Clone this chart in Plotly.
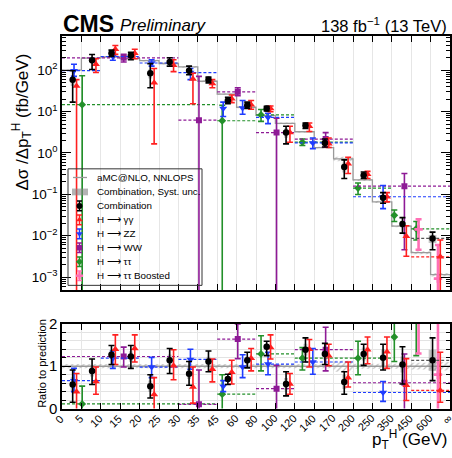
import plotly.graph_objects as go

INF = float("inf")

# pT bin edges of the combined measurement (GeV); the axis is uniform per bin
pt_edges = [0, 5, 10, 15, 20, 25, 30, 35, 45, 60, 80, 100, 120, 140, 170, 200, 250, 350, 450, 600, INF]
edge_labels = ["0", "5", "10", "15", "20", "25", "30", "35", "45", "60", "80", "100",
               "120", "140", "170", "200", "250", "350", "450", "600", "\u221e"]

# aMC@NLO, NNLOPS prediction (fb/GeV) and its relative uncertainty, per fine bin
pred = [100, 195, 208, 190, 170, 145, 120, 54, 26.3, 12.7, 8.1, 5.2, 3.25, 1.34, 0.72,
        0.223, 0.066, 0.017, 0.0039, 0.00115]
pred_unc = [0.05, 0.05, 0.05, 0.05, 0.05, 0.05, 0.05, 0.05, 0.05, 0.05, 0.05, 0.05, 0.05,
            0.05, 0.13, 0.06, 0.06, 0.06, 0.08, 0.10]

# Combination
comb_bins = [0, 5, 10, 15, 20, 25, 30, 35, 45, 60, 80, 100, 120, 140, 170, 200, 250, 350, 450, INF]
comb_val = [59, 173, 255, 226, 84.3, 158, 97, 59, 18.5, 14.2, 11.9, 3.1, 4.6, 1.75, 0.46,
            0.289, 0.083, 0.0192, 0.0086]
comb_hi = [97, 238, 305, 269, 144, 199, 125, 68, 22.1, 16.9, 13.4, 4.4, 5.3, 2.17, 0.68,
           0.347, 0.110, 0.0274, 0.01225]
comb_lo = [16.9, 104, 214, 178, 37.7, 125, 77.3, 49.3, 15.5, 11.9, 10.4, 1.66, 3.9, 1.39,
           0.242, 0.242, 0.061, 0.0116, 0.0046]
comb_syst = [0.30, 0.15, 0.08, 0.10, 0.25, 0.12, 0.15, 0.10, 0.08, 0.08, 0.05, 0.25, 0.10,
             0.10, 0.27, 0.12, 0.16, 0.18, 0.22]
comb_ratio = [0.57, 0.89, 1.27, 1.23, 0.53, 1.14, 0.82, 1.11, 0.70, 1.14, 1.46, 0.58, 1.39,
              1.29, 0.63, 1.29, 1.20, 1.04, 1.14]
comb_ratio_hi = [0.91, 1.17, 1.49, 1.49, 0.80, 1.42, 1.11, 1.36, 0.81, 1.33, 1.59, 0.87, 1.67,
                 1.54, 0.87, 1.52, 1.52, 1.46, 1.67]
comb_ratio_lo = [0.15, 0.57, 1.04, 0.95, 0.25, 0.83, 0.55, 0.87, 0.57, 0.96, 1.25, 0.30, 1.10,
                 1.04, 0.34, 1.02, 0.91, 0.58, 0.66]

# H -> gamma gamma
gg_bins = [0, 5, 10, 15, 20, 25, 30, 35, 45, 60, 80, 100, 120, 140, 170, 200, 250, 350, 450, INF]
gg_val = [41.3, 139, 321, 255, 49.3, 132, 61, 47.8, 20.3, 14.7, 11.9, 3.1, 4.4, 1.66, 0.55,
          0.305, 0.0875, 0.0097, 0.0031]
gg_hi = [59, 188, 395, 321, 110, 178, 84.3, 59, 25.1, 18.5, 13.6, 4.4, 5.3, 2.3, 0.785,
         0.36, 0.110, 0.0175, 0.0079]
gg_lo = [0, 87.5, 240, 188, 1.66, 92, 15.5, 37.7, 16.4, 11.4, 9.9, 1.82, 3.3, 1.35, 0.32,
         0.242, 0.066, 0.0032, 0]
gg_ratio = [0.40, 0.64, 1.40, 1.42, 0.33, 1.01, 0.51, 0.93, 0.86, 1.19, 1.44, 0.58, 1.40, 1.25,
            0.73, 1.39, 1.34, 0.55, 0.43]
gg_ratio_hi = [0.83, 0.98, 1.74, 1.74, 0.73, 1.39, 0.98, 1.17, 1.14, 1.42, 1.74, 0.83, 1.63,
               1.52, 1.10, 1.69, 1.69, 1.18, 1.33]
gg_ratio_lo = [0.0, 0.34, 1.04, 1.10, 0.0, 0.68, 0.13, 0.63, 0.58, 0.89, 1.17, 0.34, 0.98,
               1.01, 0.51, 1.06, 0.95, 0.19, 0.15]

# H -> ZZ
zz_bins = [0, 10, 20, 30, 45, 60, 80, 120, 200, INF]
zz_val = [97, 214, 149, 87.5, 11.9, 12.2, 7.2, 1.75, 0.0875]
zz_hi = [139, 269, 178, 110, 16.9, 18.5, 9.1, 2.3, 0.164]
zz_lo = [70.7, 173, 125, 59, 7.6, 8.6, 5.1, 1.27, 0.0453]
zz_ratio = [0.66, 1.19, 0.98, 1.16, 0.53, 0.98, 1.05, 1.10, 0.38]
zz_ratio_hi = [0.95, 1.36, 1.21, 1.40, 0.66, 1.27, 1.33, 1.42, 0.64]
zz_ratio_lo = [0.40, 0.95, 0.73, 0.93, 0.40, 0.73, 0.80, 0.81, 0.17]

# H -> WW
ww_bins = [0, 30, 45, 80, 120, 200, INF]
ww_val = [199, 6.2, 30, 3.1, 2.17, 0.158]
ww_hi = [240, 70.7, 37.7, 6.95, 3.1, 0.32]
ww_lo = [158, 0, 24.2, 0, 1.39, 0.0046]
ww_ratio = [1.23, 0.10, 1.64, 0.47, 1.39, 0.61]
ww_ratio_hi = [1.45, 0.91, 2.0, 1.02, 1.92, 1.29]
ww_ratio_lo = [0.98, 0.0, 1.18, 0.0, 0.89, 0.0]

# H -> tau tau
tt_bins = [0, 45, 80, 120, 200, 350, 450, INF]
tt_val = [14.7, 6.0, 8.3, 1.82, 0.142, 0.0311, 0.0147]
tt_hi = [73.3, 14.2, 11.2, 2.17, 0.188, 0.042, 0.0221]
tt_lo = [0, 0, 5.8, 1.52, 0.099, 0.0221, 0.0079]
tt_ratio = [0.11, 0.34, 1.29, 1.19, 1.19, 1.69, 2.8]
tt_ratio_hi = [0.53, 0.80, 1.72, 1.44, 1.59, 2.6, 4.5]
tt_ratio_lo = [0.0, 0.0, 0.89, 0.91, 0.80, 1.11, 1.25]

# H -> tau tau, boosted
ttb_bins = [450, 600, INF]
ttb_val = [0.0142, 0.00092]
ttb_hi = [0.0251, 0.006]
ttb_lo = [0.0046, 0]
ttb_ratio = [3.6, 0.80]
ttb_ratio_hi = [6.4, 3.0]
ttb_ratio_lo = [1.3, 0.0]

W, H = 452, 458
PX0, PX1 = 62, 450
TOP_PY0, TOP_PY1 = 28, 292
RAT_PY0, RAT_PY1 = 327, 415
LOG_RANGE = [-3.314, 2.826]
LOG_FLOOR = 1e-7
FONT = "Liberation Sans, Arial, sans-serif"

RED = "#ff2020"
BLUE = "#1f3cff"
PURPLE = "#8e1a96"
GREEN = "#23902a"
PINK = "#ff6fb5"
GRAY = "#9a9a9a"

channels = [
    dict(bins=tt_bins, val=tt_val, hi=tt_hi, lo=tt_lo, r=tt_ratio, rhi=tt_ratio_hi, rlo=tt_ratio_lo,
         color=GREEN, symbol="diamond", size=6, off=-0.37, thick=1.6),
    dict(bins=ww_bins, val=ww_val, hi=ww_hi, lo=ww_lo, r=ww_ratio, rhi=ww_ratio_hi, rlo=ww_ratio_lo,
         color=PURPLE, symbol="square", size=6, off=0.03, thick=1.6),
    dict(bins=zz_bins, val=zz_val, hi=zz_hi, lo=zz_lo, r=zz_ratio, rhi=zz_ratio_hi, rlo=zz_ratio_lo,
         color=BLUE, symbol="triangle-down", size=7, off=-0.19, thick=1.6),
    dict(bins=ttb_bins, val=ttb_val, hi=ttb_hi, lo=ttb_lo, r=ttb_ratio, rhi=ttb_ratio_hi, rlo=ttb_ratio_lo,
         color=PINK, symbol="cross", size=7, off=-0.12, thick=2.6),
    dict(bins=gg_bins, val=gg_val, hi=gg_hi, lo=gg_lo, r=gg_ratio, rhi=gg_ratio_hi, rlo=gg_ratio_lo,
         color=RED, symbol="triangle-up", size=7, off=0.25, thick=1.6),
    dict(bins=comb_bins, val=comb_val, hi=comb_hi, lo=comb_lo, r=comb_ratio, rhi=comb_ratio_hi,
         rlo=comb_ratio_lo, color="black", symbol="circle", size=6.5, off=0.05, thick=1.6,
         dash_color="#555555"),
]


def spans(bins):
    out = []
    for k in range(len(bins) - 1):
        out.append((pt_edges.index(bins[k]), pt_edges.index(bins[k + 1])))
    return out


fig = go.Figure()
n_bins = len(pred)

# prediction uncertainty (hatched) and central prediction, both panels
for yax, centre in (("y", pred), ("y2", [1.0] * n_bins)):
    xax = "x" if yax == "y" else "x2"
    bx, by = [], []
    for i in range(n_bins):
        lo_v = centre[i] * (1 - pred_unc[i])
        hi_v = centre[i] * (1 + pred_unc[i])
        bx += [i, i + 1, i + 1, i, i, None]
        by += [lo_v, lo_v, hi_v, hi_v, lo_v, None]
    fig.add_trace(go.Scatter(
        x=bx, y=by, xaxis=xax, yaxis=yax, mode="lines",
        line=dict(width=0), fill="toself", fillcolor="rgba(0,0,0,0)",
        fillpattern=dict(shape="/", fgcolor="#808080", bgcolor="rgba(255,255,255,0)",
                         size=4, solidity=0.3),
        hoverinfo="skip", showlegend=False))
    fig.add_trace(go.Scatter(
        x=list(range(n_bins + 1)), y=list(centre) + [centre[-1]],
        xaxis=xax, yaxis=yax, mode="lines", line_shape="hv",
        line=dict(color=GRAY, width=1.3), hoverinfo="skip", showlegend=False))

# combination systematic-uncertainty boxes
comb_spans = spans(comb_bins)
for yax, vals in (("y", comb_val), ("y2", comb_ratio)):
    sx, sy = [], []
    for k, (i0, i1) in enumerate(comb_spans):
        w = i1 - i0
        xc = i0 + w * 0.55
        hw = 0.1 * w
        v0 = vals[k] * (1 - comb_syst[k])
        v1 = vals[k] * (1 + comb_syst[k])
        sx += [xc - hw, xc + hw, xc + hw, xc - hw, xc - hw, None]
        sy += [v0, v0, v1, v1, v0, None]
    fig.add_trace(go.Scatter(
        x=sx, y=sy, xaxis="x" if yax == "y" else "x2", yaxis=yax, mode="lines",
        line=dict(width=0), fill="toself", fillcolor="rgba(130,130,130,0.45)",
        hoverinfo="skip", showlegend=False))

# per-channel dashed bin extents, markers and error bars
for ch in channels:
    sp = spans(ch["bins"])
    xs = [i0 + (i1 - i0) * (0.5 + ch["off"]) for i0, i1 in sp]
    for yax, xax, v, hi, lo, floor in (("y", "x", ch["val"], ch["hi"], ch["lo"], LOG_FLOOR),
                                       ("y2", "x2", ch["r"], ch["rhi"], ch["rlo"], -0.2)):
        dx, dy = [], []
        for k, (i0, i1) in enumerate(sp):
            if i1 - i0 > 1:
                dx += [i0, i1, None]
                dy += [v[k], v[k], None]
        if dx:
            fig.add_trace(go.Scatter(
                x=dx, y=dy, xaxis=xax, yaxis=yax, mode="lines",
                line=dict(color=ch.get("dash_color", ch["color"]), width=1.2, dash="3px,2px"),
                hoverinfo="skip", showlegend=False))
        lo_b = [l if l > 0 else floor for l in lo]
        fig.add_trace(go.Scatter(
            x=xs, y=v, xaxis=xax, yaxis=yax, mode="markers",
            marker=dict(color=ch["color"], symbol=ch["symbol"], size=ch["size"], line=dict(width=0)),
            error_y=dict(type="data", symmetric=False,
                         array=[h - c for h, c in zip(hi, v)],
                         arrayminus=[c - l for c, l in zip(v, lo_b)],
                         color=ch["color"], thickness=ch["thick"], width=3),
            hoverinfo="skip", showlegend=False))

# legend drawn in a pixel-coordinate overlay
legend_rows = [175, 190, 204.5, 219, 233.5, 248, 262.5, 277]
legend_text = ["aMC@NLO, NNLOPS", "Combination, Syst. unc.", "Combination",
               "H \u27f6 \u03b3\u03b3", "H \u27f6 ZZ", "H \u27f6 WW", "H \u27f6 \u03c4\u03c4",
               "H \u27f6 \u03c4\u03c4 Boosted"]
legend_marks = [("black", "circle", 6), (RED, "triangle-up", 6), (BLUE, "triangle-down", 6),
                (PURPLE, "square", 5.5), (GREEN, "diamond", 5.5), (PINK, "cross", 6)]
fig.add_trace(go.Scatter(x=[73, 87], y=[legend_rows[0]] * 2, xaxis="x3", yaxis="y3", mode="lines",
                         line=dict(color=GRAY, width=1.3), hoverinfo="skip", showlegend=False))
fig.add_trace(go.Scatter(x=[72, 88, 88, 72, 72],
                         y=[legend_rows[1] - 3.5, legend_rows[1] - 3.5, legend_rows[1] + 3.5,
                            legend_rows[1] + 3.5, legend_rows[1] - 3.5],
                         xaxis="x3", yaxis="y3", mode="lines", line=dict(width=0), fill="toself",
                         fillcolor="rgba(130,130,130,0.6)", hoverinfo="skip", showlegend=False))
for row, (col, sym, sz) in zip(legend_rows[2:], legend_marks):
    fig.add_trace(go.Scatter(x=[79.5], y=[row], xaxis="x3", yaxis="y3", mode="markers",
                             marker=dict(color=col, symbol=sym, size=sz, line=dict(width=0)),
                             error_y=dict(type="constant", value=5, color=col, thickness=1.5, width=2.5),
                             hoverinfo="skip", showlegend=False))

annotations = []
for row, txt in zip(legend_rows, legend_text):
    annotations.append(dict(x=95, y=row, xref="x3", yref="y3", text=txt, showarrow=False,
                            xanchor="left", yanchor="middle", font=dict(size=9.8, color="black")))

# rotated pT edge labels under the ratio panel
bin_px = (PX1 - PX0) / n_bins
for i, lab in enumerate(edge_labels):
    half = 0.5 * len(lab) * 6.0 * 0.707
    annotations.append(dict(x=PX0 + i * bin_px - 0.5 - half, y=423.5 + half, xref="x3", yref="y3",
                            text=lab, showarrow=False, textangle=-45, xanchor="center",
                            yanchor="middle", font=dict(size=11, color="black")))

annotations += [
    dict(x=61, y=16, xref="x3", yref="y3", text="<b>CMS</b>", showarrow=False,
         xanchor="left", yanchor="middle", font=dict(size=23, color="black")),
    dict(x=118, y=17.5, xref="x3", yref="y3", text="<i>Preliminary</i>", showarrow=False,
         xanchor="left", yanchor="middle", font=dict(size=17, color="black")),
    dict(x=449, y=16.5, xref="x3", yref="y3", text="138 fb<sup>\u22121</sup> (13 TeV)",
         showarrow=False, xanchor="right", yanchor="middle", font=dict(size=16.5, color="black")),
    dict(x=22, y=118, xref="x3", yref="y3", textangle=-90, showarrow=False,
         text="\u0394\u03c3 /\u0394p<sub>T</sub><sup>H</sup> (fb/GeV)",
         xanchor="center", yanchor="middle", font=dict(size=17, color="black")),
    dict(x=42.5, y=368, xref="x3", yref="y3", textangle=-90, showarrow=False,
         text="Ratio to prediction", xanchor="center", yanchor="middle",
         font=dict(size=11, color="black")),
    dict(x=449, y=447, xref="x3", yref="y3", showarrow=False,
         text="p<sub>T</sub><sup>H</sup> (GeV)", xanchor="right", yanchor="middle",
         font=dict(size=17, color="black")),
]

shapes = [dict(type="rect", xref="x3", yref="y3", x0=68, x1=202, y0=166, y1=287,
               line=dict(color="#333333", width=1), fillcolor="rgba(0,0,0,0)")]

xdom = [PX0 / W, PX1 / W]
common_x = dict(range=[0, n_bins], tickmode="array", tickvals=list(range(n_bins + 1)),
                ticks="inside", ticklen=6, tickwidth=1, tickcolor="black", showticklabels=False,
                showline=True, linewidth=1.5, linecolor="black", mirror="ticks",
                showgrid=True, gridcolor="#e6e6e6", gridwidth=1, zeroline=False, fixedrange=True)

log_minor = []
for e in range(-4, 3):
    for m in range(2, 10):
        log_minor.append(m * 10.0 ** e)

fig.update_layout(
    width=W, height=H, margin=dict(l=0, r=0, t=0, b=0),
    paper_bgcolor="white", plot_bgcolor="rgba(0,0,0,0)",
    font=dict(family=FONT, color="black"),
    showlegend=False,
    xaxis=dict(domain=xdom, anchor="y", **common_x),
    yaxis=dict(domain=[1 - TOP_PY1 / H, 1 - TOP_PY0 / H], anchor="x", type="log", range=LOG_RANGE,
               tickmode="array", tickvals=[1e-3, 1e-2, 1e-1, 1, 10, 100],
               ticktext=["10<sup>\u22123</sup>", "10<sup>\u22122</sup>", "10<sup>\u22121</sup>",
                         "10<sup>0</sup>", "10<sup>1</sup>", "10<sup>2</sup>"],
               tickfont=dict(size=13.5), ticks="inside", ticklen=9, tickwidth=1, tickcolor="black",
               minor=dict(tickmode="array", tickvals=log_minor, ticks="inside", ticklen=4,
                          tickwidth=1, tickcolor="black", showgrid=False),
               showline=True, linewidth=1.5, linecolor="black", mirror="ticks",
               showgrid=False, zeroline=False, fixedrange=True),
    xaxis2=dict(domain=xdom, anchor="y2", **common_x),
    yaxis2=dict(domain=[1 - RAT_PY1 / H, 1 - RAT_PY0 / H], anchor="x2", range=[0, 2],
                tickmode="array", tickvals=[0, 1, 2], tickfont=dict(size=15),
                ticks="inside", ticklen=9, tickwidth=1, tickcolor="black",
                minor=dict(tickmode="array", tickvals=[0.2, 0.4, 0.6, 0.8, 1.2, 1.4, 1.6, 1.8],
                           ticks="inside", ticklen=4, tickwidth=1, tickcolor="black",
                           showgrid=True, gridcolor="#e3e3e3", gridwidth=1),
                showline=True, linewidth=1.5, linecolor="black", mirror="ticks",
                showgrid=False, zeroline=False, fixedrange=True),
    xaxis3=dict(domain=[0, 1], anchor="y3", range=[0, W], visible=False, fixedrange=True),
    yaxis3=dict(domain=[0, 1], anchor="x3", range=[H, 0], visible=False, fixedrange=True),
    annotations=annotations,
    shapes=shapes,
)

fig.write_html("out.html")
